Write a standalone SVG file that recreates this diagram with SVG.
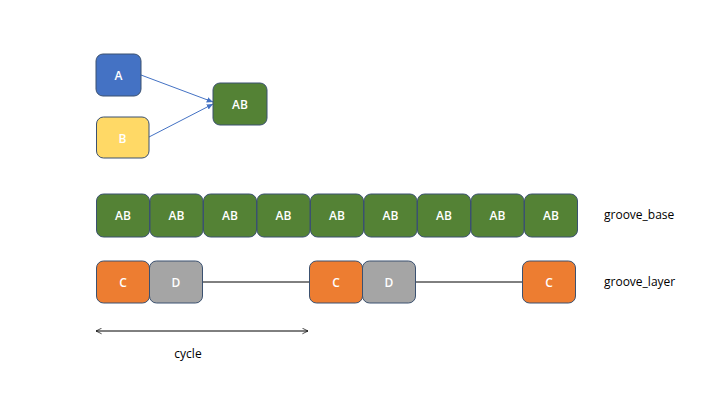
<svg xmlns="http://www.w3.org/2000/svg" width="720" height="405" viewBox="0 0 720 405">
<defs>
<style>
.n{stroke:#3B5170;stroke-width:1}
.t{font-family:"Open Sans","Liberation Sans",sans-serif;font-size:12px;font-weight:600;fill:#fff;text-anchor:middle;dominant-baseline:central}
.l{font-family:"Open Sans","Liberation Sans",sans-serif;font-size:12px;fill:#000}
.g{fill:#548235}.o{fill:#ED7D31}.d{fill:#A5A5A5}
</style>
<marker id="ab" viewBox="0 0 10 10" refX="9" refY="5" markerWidth="7" markerHeight="7" orient="auto"><path d="M0,1 L9,5 L0,9 z" fill="#4472C4"/></marker>
<marker id="ah" viewBox="0 0 10 10" refX="9" refY="5" markerWidth="7" markerHeight="7" orient="auto-start-reverse"><path d="M1,1 L9,5 L1,9" fill="none" stroke="#000" stroke-width="1"/></marker>
</defs>
<rect width="720" height="405" fill="#fff"/>
<g id="connectors">
<line x1="141" y1="75" x2="213" y2="102" stroke="#4472C4" stroke-width="1" marker-end="url(#ab)"/>
<line x1="149" y1="137" x2="213" y2="104" stroke="#4472C4" stroke-width="1" marker-end="url(#ab)"/>
<line x1="202" y1="282" x2="309" y2="282" stroke="#000" stroke-width="1"/>
<line x1="416" y1="282" x2="522" y2="282" stroke="#000" stroke-width="1"/>
<line x1="96" y1="331" x2="308" y2="331" stroke="#000" stroke-width="1" marker-start="url(#ah)" marker-end="url(#ah)"/>
</g>
<g id="A"><rect class="n" x="96" y="54" width="45" height="42" rx="7" fill="#4472C4"/><text class="t" x="118.5" y="75">A</text></g>
<g id="B"><rect class="n" x="96.5" y="117" width="52.5" height="41" rx="7" fill="#FFD966"/><text class="t" x="122.5" y="138">B</text></g>
<g id="AB"><rect class="n g" x="213" y="83" width="54" height="42" rx="7"/><text class="t" x="240" y="104">AB</text></g>
<g id="groove_base_row">
<g id="base1"><rect class="n g" x="96.5" y="194" width="53" height="43" rx="7"/><text class="t" x="123" y="215.5">AB</text></g>
<g id="base2"><rect class="n g" x="150" y="194" width="53" height="43" rx="7"/><text class="t" x="176.5" y="215.5">AB</text></g>
<g id="base3"><rect class="n g" x="203.5" y="194" width="53" height="43" rx="7"/><text class="t" x="230" y="215.5">AB</text></g>
<g id="base4"><rect class="n g" x="257" y="194" width="53" height="43" rx="7"/><text class="t" x="283.5" y="215.5">AB</text></g>
<g id="base5"><rect class="n g" x="310.5" y="194" width="53" height="43" rx="7"/><text class="t" x="337" y="215.5">AB</text></g>
<g id="base6"><rect class="n g" x="364" y="194" width="53" height="43" rx="7"/><text class="t" x="390.5" y="215.5">AB</text></g>
<g id="base7"><rect class="n g" x="417.5" y="194" width="53" height="43" rx="7"/><text class="t" x="444" y="215.5">AB</text></g>
<g id="base8"><rect class="n g" x="471" y="194" width="53" height="43" rx="7"/><text class="t" x="497.5" y="215.5">AB</text></g>
<g id="base9"><rect class="n g" x="524.5" y="194" width="53" height="43" rx="7"/><text class="t" x="551" y="215.5">AB</text></g>
</g>
<g id="groove_layer_row">
<g id="C1"><rect class="n o" x="96.5" y="261" width="53" height="42" rx="7"/><text class="t" x="123" y="282">C</text></g>
<g id="D1"><rect class="n d" x="149.5" y="261" width="53" height="42" rx="7"/><text class="t" x="176" y="282">D</text></g>
<g id="C2"><rect class="n o" x="309.5" y="261" width="53" height="42" rx="7"/><text class="t" x="336" y="282">C</text></g>
<g id="D2"><rect class="n d" x="362.5" y="261" width="53" height="42" rx="7"/><text class="t" x="389" y="282">D</text></g>
<g id="C3"><rect class="n o" x="522.5" y="261" width="53" height="42" rx="7"/><text class="t" x="549" y="282">C</text></g>
</g>
<g id="labels">
<text class="l" x="604" y="219">groove_base</text>
<text class="l" x="604" y="286">groove_layer</text>
<text class="l" x="188" y="358" text-anchor="middle">cycle</text>
</g>
</svg>
